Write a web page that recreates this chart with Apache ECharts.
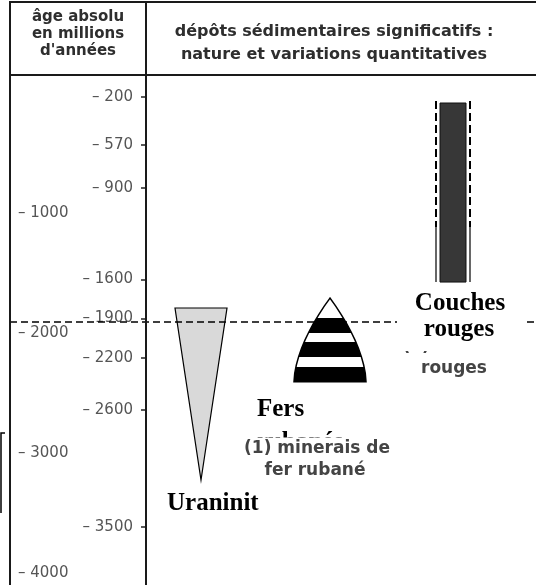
<!DOCTYPE html>
<html><head><meta charset="utf-8">
<script src="https://cdn.jsdelivr.net/npm/echarts@6/dist/echarts.min.js"></script>
<style>html,body{margin:0;padding:0;background:#fff}#c{width:536px;height:585px}</style>
</head><body><div id="c"></div>
<script>
// ---- data (ages in millions of years) ----
const categories = ['Uraninit', 'Fers rubanés', 'Couches rouges'];
const ageTop = [1819, 1743, 246];
const ageBottom = [3139, 2385, 1620];
const fersBandBounds = [1743, 1896, 2011, 2080, 2195, 2272, 2385];
const couchesUncertainTop = 231;
const couchesCertainFrom = 1197;
const boundaryAge = 1927;
const rightTicks = [200, 570, 900, 1600, 1900, 2200, 2600, 3500];
const leftTicks = [1000, 2000, 3000, 4000];
const headerLeft = ['âge absolu', 'en millions', "d'années"];
const headerRight = ['dépôts sédimentaires significatifs :', 'nature et variations quantitatives'];
const printedLabels1 = ['(1) minerais de', 'fer rubané'];
const printedLabels2 = ['(2) couches', 'rouges'];

// ---- layout (px) ----
const COLX = [191, 320, 443];
const chart = echarts.init(document.getElementById('c'), null, {renderer: 'canvas'});

function renderItem(params, api) {
  const i = api.value(0);
  const top = api.value(1), bot = api.value(2);
  const cx = api.coord([COLX[i], top])[0];
  const yTop = api.coord([COLX[i], top])[1];
  const yBot = api.coord([COLX[i], bot])[1];
  if (i === 0) {
    return {type: 'polygon', shape: {points: [[cx - 26, yTop], [cx + 26, yTop], [cx, yBot]]},
      style: {fill: '#d9d9d9', stroke: '#000', lineWidth: 1.2}};
  }
  if (i === 1) {
    const W = 36;
    const hw = y => { const t = Math.max(0, Math.min(1, (y - yTop) / (yBot - yTop))); return W * (1 - Math.pow(1 - t, 1.7)); };
    const children = [];
    const bandPts = (ya, yb) => {
      const L = [], R = [];
      const n = 10;
      for (let k = 0; k <= n; k++) { const y = ya + (yb - ya) * k / n; L.push([cx - hw(y), y]); R.unshift([cx + hw(y), y]); }
      return L.concat(R);
    };
    for (let b = 0; b < fersBandBounds.length - 1; b++) {
      const ya = api.coord([0, fersBandBounds[b]])[1];
      const yb = api.coord([0, fersBandBounds[b + 1]])[1];
      children.push({type: 'polygon', shape: {points: bandPts(ya, yb)},
        style: {fill: b % 2 === 0 ? '#fff' : '#000', stroke: null}});
    }
    children.push({type: 'polygon', shape: {points: bandPts(yTop, yBot)},
      style: {fill: null, stroke: '#000', lineWidth: 1.5}});
    return {type: 'group', children};
  }
  // couches rouges
  const yU = api.coord([0, couchesUncertainTop])[1];
  const yC = api.coord([0, couchesCertainFrom])[1];
  return {type: 'group', children: [
    {type: 'rect', shape: {x: cx - 13, y: yTop, width: 26, height: yBot - yTop},
      style: {fill: '#373737', stroke: '#111', lineWidth: 1}},
    {type: 'line', shape: {x1: cx - 17, y1: yU, x2: cx - 17, y2: yC}, style: {stroke: '#000', lineWidth: 2, lineDash: [8, 4]}},
    {type: 'line', shape: {x1: cx + 17, y1: yU, x2: cx + 17, y2: yC}, style: {stroke: '#000', lineWidth: 2, lineDash: [8, 4]}},
    {type: 'line', shape: {x1: cx - 17, y1: yC, x2: cx - 17, y2: yBot}, style: {stroke: '#000', lineWidth: 1.2}},
    {type: 'line', shape: {x1: cx + 17, y1: yC, x2: cx + 17, y2: yBot}, style: {stroke: '#000', lineWidth: 1.2}}
  ]};
}

const border = '#1a1a1a';
const txt = (text, x, y, z, opts) => ({type: 'text', x, y, z,
  style: Object.assign({text, fill: '#2e2e2e', font: 'bold 16px "DejaVu Sans"', align: 'center', verticalAlign: 'middle'}, opts || {})});
const serif = 'bold 25px "Liberation Serif"';
const printed = 'bold 17px "DejaVu Sans"';

const option = {
  animation: false,
  backgroundColor: '#fff',
  grid: {left: 10, right: 0, top: 75, bottom: 0},
  xAxis: {type: 'value', min: 0, max: 526, show: false},
  yAxis: [
    {type: 'value', inverse: true, min: 31, max: 3945, position: 'left', offset: -136,
      axisLine: {show: false}, splitLine: {show: false},
      axisTick: {show: true, customValues: rightTicks, length: 5, lineStyle: {color: '#222', width: 1.5}},
      axisLabel: {customValues: rightTicks, formatter: v => '– ' + v, margin: 13, color: '#555', fontSize: 15, fontFamily: 'DejaVu Sans'}},
    {type: 'value', inverse: true, min: -150, max: 4100, position: 'left', offset: -8,
      axisLine: {show: false}, axisTick: {show: false}, splitLine: {show: false},
      axisLabel: {customValues: leftTicks, formatter: v => '– ' + v, margin: 0, align: 'left', color: '#555', fontSize: 15, fontFamily: 'DejaVu Sans'}}
  ],
  series: [
    {type: 'custom', z: 2, renderItem, clip: false, silent: true,
      data: categories.map((c, i) => [i, ageTop[i], ageBottom[i]]),
      encode: {x: 0, y: [1, 2]}},
    {type: 'line', z: 5, data: [], silent: true,
      markLine: {silent: true, symbol: 'none', label: {show: false}, animation: false,
        lineStyle: {type: [7, 4], color: '#000', width: 1.5},
        data: [{yAxis: boundaryAge}]}}
  ],
  graphic: [
    // frame
    {type: 'line', z: 20, shape: {x1: 10, y1: 2, x2: 536, y2: 2}, style: {stroke: border, lineWidth: 2}},
    {type: 'line', z: 20, shape: {x1: 10, y1: 75, x2: 536, y2: 75}, style: {stroke: border, lineWidth: 2}},
    {type: 'line', z: 20, shape: {x1: 10, y1: 1, x2: 10, y2: 585}, style: {stroke: border, lineWidth: 2}},
    {type: 'line', z: 20, shape: {x1: 146, y1: 1, x2: 146, y2: 585}, style: {stroke: border, lineWidth: 2}},
    {type: 'polyline', z: 20, shape: {points: [[5, 433], [1, 433], [1, 513]]}, style: {stroke: '#000', lineWidth: 1.5, fill: null}},
    // headers
    txt(headerLeft[0], 78, 17, 60, {font: 'bold 15px "DejaVu Sans"'}),
    txt(headerLeft[1], 78, 34, 60, {font: 'bold 15px "DejaVu Sans"'}),
    txt(headerLeft[2], 78, 51, 60, {font: 'bold 15px "DejaVu Sans"'}),
    txt(headerRight[0], 334, 32, 60),
    txt(headerRight[1], 334, 55, 60),
    // printed labels from the base figure
    txt(printedLabels2[0], 458, 347, 30, {font: printed, fill: '#444'}),
    txt(printedLabels2[1], 454, 369, 30, {font: printed, fill: '#444'}),
    // overlay label boxes
    {type: 'rect', z: 40, shape: {x: 397, y: 287, width: 130, height: 64}, style: {fill: '#fff'}},
    txt('Couches', 460, 303.5, 45, {font: serif, fill: '#000'}),
    txt('rouges', 459, 329.5, 45, {font: serif, fill: '#000'}),
    txt('Fers', 257, 409.5, 45, {font: serif, fill: '#000', align: 'left'}),
    txt('rubanés', 257, 443, 45, {font: serif, fill: '#000', align: 'left'}),
    {type: 'rect', z: 46, shape: {x: 245, y: 437.5, width: 130, height: 14}, style: {fill: '#fff'}},
    txt(printedLabels1[0], 317, 449, 50, {font: printed, fill: '#444'}),
    txt(printedLabels1[1], 315, 471, 50, {font: printed, fill: '#444'}),
    txt('Uraninit', 167, 503.5, 45, {font: serif, fill: '#000', align: 'left'})
  ]
};
chart.setOption(option);
</script></body></html>
